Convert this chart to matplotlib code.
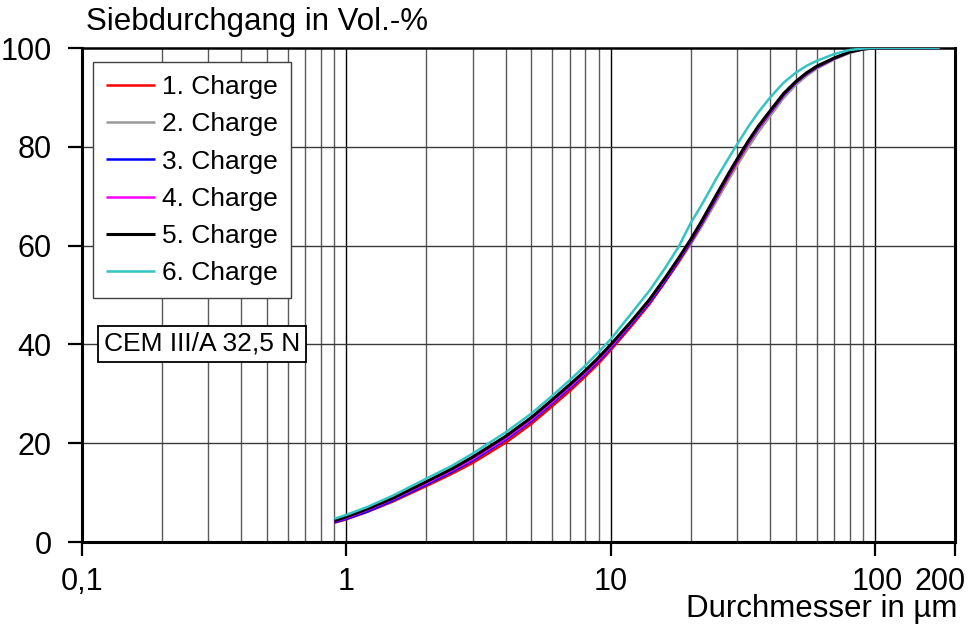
import matplotlib
matplotlib.use("Agg")
import matplotlib.pyplot as plt
import matplotlib.transforms as mtransforms
from matplotlib.ticker import FixedLocator, NullLocator

plt.rcParams['font.family'] = ['Liberation Sans', 'DejaVu Sans']

# Particle diameter in µm
diameter = [0.9, 1, 1.2, 1.5, 2, 2.5, 3, 4, 5, 6, 7, 8, 9, 10, 12, 14, 16, 18, 20, 22,
            25, 28, 30, 33, 36, 40, 45, 50, 55, 60, 70, 80, 90, 100, 175]

# Cumulative passing in Vol.-%
charge1 = [3.9, 4.6, 6.1, 8.2, 11.3, 13.8, 16.0, 20.1, 23.9, 27.5, 30.6, 33.5, 36.2, 38.9,
           43.8, 48.2, 52.6, 56.7, 60.6, 64.3, 69.6, 74.2, 76.9, 80.6, 83.7, 86.9, 90.5,
           93.0, 94.8, 96.1, 97.9, 99.2, 99.8, 100, 100]
charge2 = [4.1, 4.8, 6.3, 8.5, 11.7, 14.2, 16.6, 20.8, 24.6, 28.2, 31.3, 34.1, 36.8, 39.4,
           44.1, 48.3, 52.6, 56.5, 60.2, 63.8, 68.9, 73.5, 76.2, 79.8, 82.9, 86.2, 89.9,
           92.5, 94.4, 95.8, 97.7, 99.0, 99.7, 100, 100]
charge3 = [4.0, 4.7, 6.2, 8.4, 11.6, 14.2, 16.5, 20.7, 24.5, 28.1, 31.2, 34.0, 36.7, 39.3,
           44.2, 48.5, 52.8, 56.9, 60.7, 64.4, 69.7, 74.4, 77.1, 80.7, 83.7, 86.9, 90.5,
           93.0, 94.8, 96.1, 97.9, 99.2, 99.8, 100, 100]
charge4 = [4.2, 4.9, 6.5, 8.7, 11.9, 14.5, 16.8, 21.0, 24.8, 28.4, 31.5, 34.3, 37.0, 39.6,
           44.5, 48.8, 53.1, 57.1, 60.9, 64.6, 69.9, 74.5, 77.2, 80.8, 83.8, 87.0, 90.6,
           93.1, 94.9, 96.2, 97.9, 99.2, 99.8, 100, 100]
charge5 = [4.3, 5.1, 6.7, 8.9, 12.2, 14.8, 17.2, 21.4, 25.2, 28.8, 31.9, 34.7, 37.4, 40.0,
           44.8, 49.1, 53.4, 57.4, 61.2, 64.9, 70.2, 74.8, 77.5, 81.1, 84.1, 87.3, 90.8,
           93.2, 95.0, 96.3, 98.0, 99.2, 99.8, 100, 100]
charge6 = [4.7, 5.5, 7.1, 9.4, 12.8, 15.4, 17.9, 22.2, 26.0, 29.6, 32.8, 35.7, 38.5, 41.1,
           46.4, 50.9, 55.4, 59.7, 64.5, 68.2, 73.5, 77.9, 80.5, 84.0, 86.9, 90.0, 93.0,
           95.0, 96.4, 97.4, 98.8, 99.6, 99.9, 100, 100]

labels = ["1. Charge", "2. Charge", "3. Charge", "4. Charge", "5. Charge", "6. Charge"]
colors = ["#ff0000", "#999999", "#0000ff", "#ff00ff", "#000000", "#33c4c4"]
series = [charge1, charge2, charge3, charge4, charge5, charge6]

x_ticks = [0.1, 1, 10, 100, 200]
x_ticklabels = ["0,1", "1", "10", "100", "200"]
y_ticks = [0, 20, 40, 60, 80, 100]

fig = plt.figure(figsize=(9.71, 6.30), dpi=100)
W, H = 971, 630
ax = fig.add_axes([82 / W, 1 - 542 / H, (955 - 82) / W, (542 - 48) / H])

ax.set_xscale('log')
ax.set_xlim(0.1, 200)
ax.set_ylim(0, 100)

# grid lines
minor_pos = [m * 10.0 ** e for e in (-1, 0, 1) for m in range(2, 10)]
for v in minor_pos:
    ax.axvline(v, color="#5a5a5a", lw=1.0, zorder=1)
for v in [1, 10, 100]:
    ax.axvline(v, color="#000000", lw=1.0, zorder=1)
for v in [20, 40, 60, 80]:
    ax.axhline(v, color="#3a3a3a", lw=1.0, zorder=1)

order = [1, 0, 2, 3, 4, 5]
handles = {}
for i in order:
    lw = 2.2 if i == 4 else 1.8
    h, = ax.plot(diameter, series[i], color=colors[i], lw=lw, label=labels[i],
                 zorder=3 + order.index(i), solid_capstyle='butt')
    handles[i] = h

ax.xaxis.set_major_locator(FixedLocator(x_ticks))
ax.xaxis.set_minor_locator(NullLocator())
ax.set_xticks(x_ticks)
ax.set_xticklabels(x_ticklabels)
ax.set_yticks(y_ticks)
ax.tick_params(axis='both', direction='out', length=10, width=1.6, labelsize=22, color='black')
ax.tick_params(axis='y', pad=12)
ax.tick_params(axis='x', pad=8)

# shift the "100" and "200" labels like the reference
xlabels = ax.get_xticklabels()
off200 = mtransforms.ScaledTranslation(-15 / 100, 0, fig.dpi_scale_trans)
off100 = mtransforms.ScaledTranslation(2 / 100, 0, fig.dpi_scale_trans)
xlabels[4].set_transform(xlabels[4].get_transform() + off200)
xlabels[3].set_transform(xlabels[3].get_transform() + off100)

for s in ['left', 'bottom']:
    ax.spines[s].set_linewidth(2.2)
ax.spines['right'].set_linewidth(2.2)
ax.spines['top'].set_linewidth(1.8)

leg = ax.legend([handles[i] for i in range(6)], labels, loc='upper left',
                bbox_to_anchor=(93 / W, 1 - 62 / H), bbox_transform=fig.transFigure,
                borderaxespad=0, fontsize=19, frameon=True, fancybox=False,
                handlelength=1.85, handletextpad=0.25, labelspacing=0.5, borderpad=0.5)
leg.get_frame().set_edgecolor('#404040')
leg.get_frame().set_linewidth(1.0)
leg.get_frame().set_alpha(1)
leg.set_zorder(20)

ax.text((104 - 82) / 873, 0.401, "CEM III/A 32,5 N", fontsize=19, ha='left', va='center',
        transform=ax.transAxes, zorder=21,
        bbox=dict(boxstyle='square,pad=0.22', facecolor='white', edgecolor='black', linewidth=1.3))

fig.text(86 / W, 1 - 22 / H, "Siebdurchgang in Vol.-%", fontsize=22.5, ha='left', va='center')
fig.text(957 / W, 1 - 609 / H, "Durchmesser in µm", fontsize=22.5, ha='right', va='center')

fig.savefig("out.png", dpi=100)
